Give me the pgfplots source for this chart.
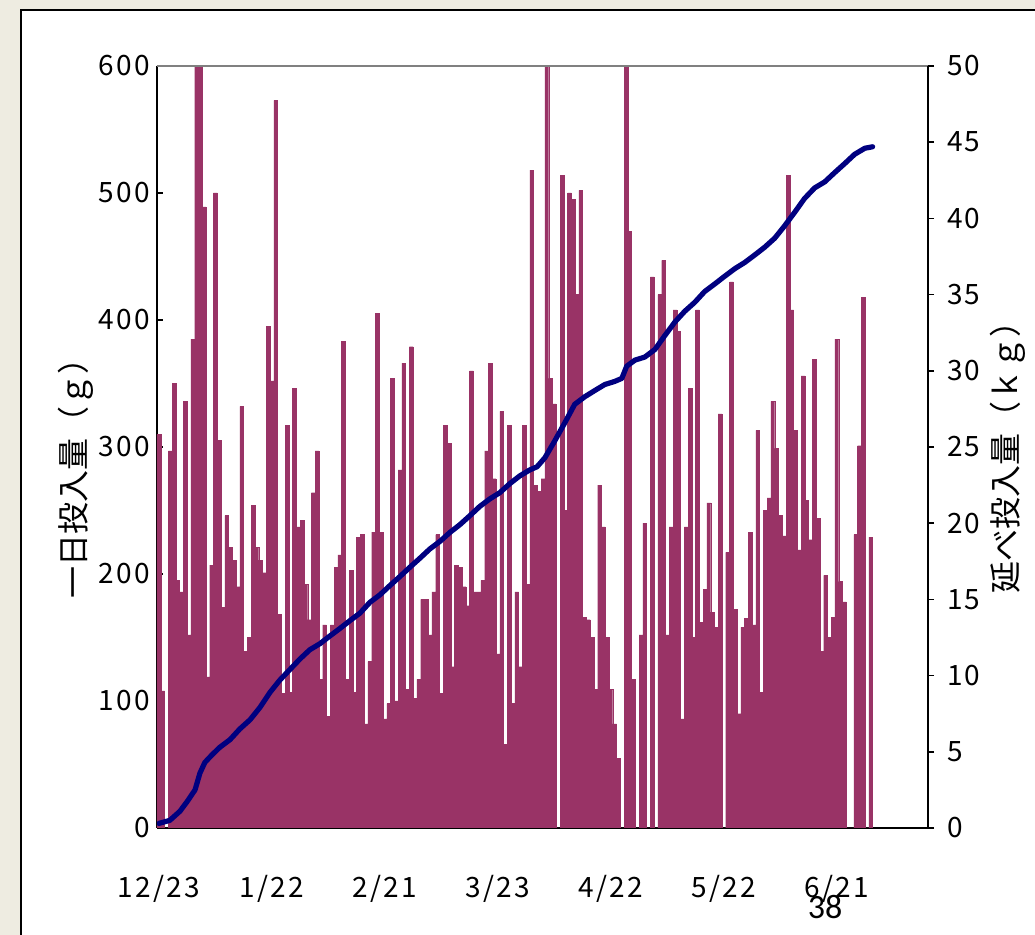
\documentclass[border=0pt]{standalone}
\usepackage{fontspec}
\setmainfont{Noto Sans CJK JP}
\newfontfamily\jp{Noto Sans CJK JP}
\newfontfamily\tickfont{Noto Sans CJK JP}[LetterSpace=8]
\newfontfamily\pagefont{Carlito}
\usepackage{pgfplots}
\usepackage{pgfplotstable}
\pgfplotsset{compat=1.18}
\definecolor{bg}{HTML}{EEECE1}
\definecolor{barc}{HTML}{993366}
\definecolor{linec}{HTML}{000080}

\pgfplotstableread{
k g
0 310
1 108
2 0
3 297
4 350
5 195
6 186
7 336
8 152
9 385
10 610
11 610
12 489
13 119
14 207
15 500
16 305
17 174
18 246
19 221
20 211
21 190
22 332
23 139
24 150
25 254
26 221
27 211
28 201
29 395
30 352
31 573
32 168
33 106
34 317
35 107
36 346
37 237
38 242
39 192
40 164
41 264
42 297
43 117
44 160
45 88
46 160
47 205
48 215
49 383
50 117
51 203
52 107
53 229
54 231
55 82
56 131
57 233
58 405
59 233
60 86
61 98
62 354
63 100
64 282
65 366
66 109
67 379
68 102
69 117
70 180
71 180
72 152
73 186
74 231
75 106
76 317
77 303
78 127
79 207
80 205
81 190
82 175
83 360
84 186
85 186
86 195
87 297
88 366
89 275
90 137
91 328
92 66
93 317
94 98
95 186
96 127
97 317
98 192
99 518
100 270
101 265
102 275
103 610
104 354
105 334
106 0
107 514
108 250
109 500
110 495
111 420
112 502
113 166
114 164
115 150
116 109
117 270
118 237
119 150
120 109
121 82
122 55
123 0
124 610
125 470
126 117
127 0
128 152
129 240
130 0
131 434
132 0
133 420
134 447
135 152
136 237
137 408
138 391
139 86
140 237
141 346
142 150
143 408
144 162
145 188
146 256
147 170
148 158
149 326
150 0
151 217
152 430
153 172
154 90
155 158
156 165
157 233
158 160
159 313
160 107
161 250
162 260
163 336
164 299
165 246
166 230
167 514
168 408
169 313
170 219
171 356
172 258
173 227
174 369
175 244
176 139
177 199
178 150
179 166
180 385
181 194
182 178
183 0
184 0
185 231
186 301
187 418
188 0
189 229
}\bars

\pgfplotstableread{
k kg
0 0.3
2.9 0.5
5.6 1.1
7.7 1.8
9.6 2.5
10.9 3.6
12.2 4.3
14.1 4.8
16.2 5.3
18.9 5.8
21.5 6.5
24.2 7.1
26.8 7.9
29.5 8.9
32.1 9.7
34.8 10.4
37.5 11.1
40.1 11.7
42.8 12.1
45.4 12.6
48.1 13.1
50.7 13.6
53.4 14.1
56.0 14.8
58.7 15.3
61.3 15.9
64.0 16.5
66.6 17.1
69.3 17.7
71.9 18.3
74.6 18.8
77.3 19.4
79.9 19.9
82.6 20.5
85.2 21.1
87.9 21.6
90.5 22.0
93.2 22.6
95.8 23.1
98.5 23.5
100.4 23.7
102.5 24.3
105.1 25.4
107.8 26.6
110.4 27.8
113.1 28.3
115.7 28.7
118.4 29.1
121.0 29.3
122.9 29.5
124.2 30.3
126.4 30.7
129.0 30.9
131.7 31.4
134.3 32.3
137.0 33.2
139.6 33.9
142.3 34.5
144.9 35.2
147.6 35.7
150.2 36.2
152.9 36.7
155.5 37.1
158.2 37.6
160.8 38.1
163.5 38.7
166.1 39.5
168.8 40.4
171.4 41.3
174.1 42.0
176.8 42.4
179.4 43.0
182.1 43.6
184.7 44.2
187.4 44.6
189.5 44.7
}\cum

\begin{document}
\begin{tikzpicture}
\useasboundingbox (0,0) rectangle (517.5pt,467.5pt);
\fill[bg] (0,0) rectangle (517.5pt,467.5pt);
\fill[white] (10.5pt,-5pt) rectangle (525pt,462.5pt);
\draw[line width=1pt] (10.5pt,-5pt) rectangle (525pt,462.5pt);
\begin{axis}[
  at={(78.5pt,53.5pt)}, anchor=south west,
  width=385.5pt, height=381pt, scale only axis,
  xmin=-0.5, xmax=204.2, ymin=0, ymax=600,
  axis x line*=bottom, axis y line*=left,
  axis line style={-, black, line width=0.75pt},
  ytick={0,100,...,600},
  xtick={0,30,60,90,120,150,180},
  xticklabels={12/23,1/22,2/21,3/23,4/22,5/22,6/21},
  xtick style={draw=none},
  ytick style={black, line width=0.75pt},
  tick align=inside, major tick length=3pt,
  tick label style={font=\tickfont\fontsize{14}{16}\selectfont},
  /pgf/number format/assume math mode=true,
  xticklabel style={yshift=-20pt},
]
\addplot[ybar, bar width=1, bar shift=0pt, fill=barc, draw=barc, line width=0.15pt] table[x=k,y=g]{\bars};
\draw[gray, line width=0.6pt] (rel axis cs:0,1) -- (rel axis cs:1,1);
\end{axis}
\begin{axis}[
  at={(78.5pt,53.5pt)}, anchor=south west,
  width=385.5pt, height=381pt, scale only axis,
  xmin=-0.5, xmax=204.2, ymin=0, ymax=50,
  axis x line=none, axis y line*=right,
  axis line style={-, black, line width=0.75pt},
  ytick={0,5,...,50},
  ytick style={black, line width=0.75pt},
  tick align=outside, major tick length=3pt,
  tick label style={font=\tickfont\fontsize{14}{16}\selectfont},
  /pgf/number format/assume math mode=true,
  yticklabel style={xshift=3pt},
]
\addplot[linec, line width=2.6pt, line join=round, line cap=round, no marks] table[x=k,y=kg]{\cum};
\end{axis}
\node[font=\jp\fontsize{16}{18}\selectfont, rotate=90] at (38pt,232pt) {一日投入量（ｇ）};
\node[font=\jp\fontsize{16}{18}\selectfont, rotate=90] at (504pt,242.5pt) {延べ投入量（ｋｇ）};
\node[font=\pagefont\fontsize{17}{18}\selectfont] at (412.5pt,14pt) {38};
\end{tikzpicture}
\end{document}
